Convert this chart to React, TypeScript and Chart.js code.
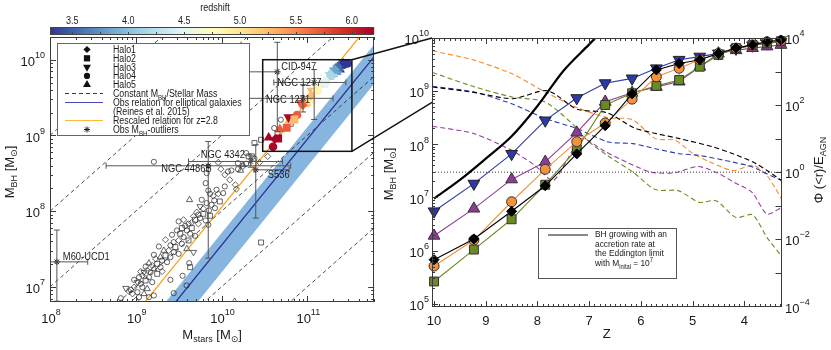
import React, { useEffect, useRef } from "react";
import { Chart, registerables } from "chart.js";

Chart.register(...registerables);

const FONT = "'Liberation Sans', Arial, 'DejaVu Sans', sans-serif";
const INK = "#1a1a1a";
const FRAME = "#3a3a3a";
const ERR_COLOR = "#555555";
const BAND_COLOR = "rgba(128,177,221,0.95)";
const REL_BLUE = "#2c2f96";
const REL_ORANGE = "#f6a623";

/* ================= LEFT PANEL DATA ================= */
const LX_LOG_RANGE = [8.0, 11.78];
const LY_LOG_RANGE = [6.8, 10.3];
const LX_MAJOR_EXP = [8, 9, 10, 11];
const LY_MAJOR_EXP = [7, 8, 9, 10];
const REDSHIFT_RANGE = [3.3, 6.2];
const REDSHIFT_TICKS = [3.5, 4.0, 4.5, 5.0, 5.5, 6.0];
const RATIO_LOG = [1, 0, -1, -2, -3, -4];
const REL_NORM = 8.95;
const REL_SLOPE = 1.4;
const REL_PIVOT = 11;
const BAND_UP = 0.16;
const BAND_LO = -0.36;
const RESCALE_OFFSET = 0.5;
const ZOOM_BOX_LOGX = [10.48, 11.52];
const ZOOM_BOX_LOGY = [8.79, 10.0];

const OBS_LOGX = [
  10.076, 10.192, 10.249, 10.315, 10.384, 10.442, 10.288, 9.961, 9.992, 10.038,
  9.827, 9.815, 10.222, 10.538, 10.161, 10.173, 9.942, 9.961, 10.019, 9.903,
  9.846, 9.865, 9.915, 9.98, 9.627, 9.827, 9.75, 9.788, 9.853, 9.884,
  9.711, 9.788, 9.75, 9.815, 9.846, 9.692, 9.653, 9.615, 9.73, 9.5,
  9.577, 9.653, 9.538, 9.596, 9.48, 9.519, 9.634, 9.692, 9.557, 9.615,
  9.5, 9.442, 9.538, 9.404, 9.461, 9.596, 9.384, 9.442, 9.327, 9.5,
  9.346, 9.404, 9.288, 9.307, 9.231, 9.365, 9.25, 9.192, 9.154, 9.288,
  9.211, 9.134, 9.173, 9.25, 9.096, 9.077, 9.154, 9.038, 9.115, 9.019,
  9.058, 9.192, 8.981, 9.077, 9.134, 9.019, 8.961, 9.096, 9.038, 9.154,
  8.999, 9.211, 9.623, 9.634, 9.546, 9.592, 9.442, 9.404, 9.673, 10.153,
  10.461, 8.826, 8.884, 8.922, 10.384, 10.461, 10.288, 10.191, 10.249, 10.115,
  10.353, 10.691, 10.807, 10.807, 10.653, 10.614, 9.73, 9.673, 9.865, 9.923,
  9.769, 9.557, 9.423, 9.346, 9.269, 9.211, 9.307, 9.115, 9.058, 8.981,
  8.942, 10.038, 10.096, 9.211,
];
const OBS_LOGY = [
  8.524, 8.555, 8.591, 8.723, 8.692, 8.643, 8.626, 8.643, 8.555, 8.48,
  8.502, 8.37, 8.538, 8.723, 8.348, 8.291, 8.282, 8.229, 8.238, 8.203,
  8.273, 8.229, 8.141, 8.128, 8.15, 8.106, 8.062, 8.031, 8.009, 8.084,
  7.987, 7.965, 7.908, 7.877, 7.82, 7.886, 7.85, 7.833, 7.833, 7.864,
  7.806, 7.776, 7.776, 7.745, 7.745, 7.701, 7.701, 7.674, 7.657, 7.613,
  7.613, 7.591, 7.569, 7.547, 7.525, 7.502, 7.48, 7.458, 7.48, 7.436,
  7.414, 7.392, 7.392, 7.348, 7.37, 7.326, 7.304, 7.282, 7.313, 7.26,
  7.238, 7.216, 7.194, 7.172, 7.194, 7.15, 7.128, 7.128, 7.084, 7.062,
  7.04, 7.062, 6.996, 6.996, 6.974, 6.93, 6.908, 6.908, 6.864, 6.864,
  6.82, 6.886, 7.313, 7.26, 7.146, 7.018, 6.917, 7.093, 7.458, 6.806,
  7.586, 6.85, 6.982, 6.938, 8.899, 8.943, 8.767, 8.634, 8.612, 8.537,
  8.723, 9.207, 9.216, 9.154, 9.031, 9.097, 7.952, 7.93, 7.939, 8.04,
  8.15, 7.886, 7.687, 7.622, 7.533, 7.423, 7.203, 7.269, 7.203, 7.093,
  6.961, 8.326, 8.414, 8.652,
];
const OBS_SHAPE = [
  "c", "c", "d", "s", "c", "d", "c", "d", "d", "d",
  "c", "c", "t", "d", "d", "d", "c", "d", "c", "d",
  "c", "c", "c", "s", "t", "c", "v", "d", "c", "c",
  "d", "s", "c", "c", "c", "s", "d", "c", "d", "c",
  "c", "s", "s", "c", "c", "s", "c", "c", "c", "s",
  "d", "c", "c", "c", "s", "t", "d", "c", "t", "c",
  "s", "c", "t", "c", "d", "c", "s", "d", "t", "c",
  "t", "d", "c", "s", "v", "d", "c", "c", "s", "v",
  "c", "c", "d", "c", "t", "c", "d", "t", "c", "c",
  "d", "c", "c", "s", "c", "c", "c", "c", "v", "t",
  "s", "c", "v", "d", "s", "s", "c", "c", "t", "c",
  "s", "c", "c", "s", "c", "c", "c", "d", "s", "c",
  "c", "d", "c", "d", "c", "c", "d", "c", "d", "c",
  "c", "c", "d", "c",
];

const OUT_NAMES = ["CID-947", "NGC 1277", "NGC 1271", "NGC 4342", "NGC 4486B", "S536", "M60-UCD1"];
const OUT_LOGX = [10.65, 11.08, 10.95, 10.341, 9.845, 10.399, 8.08];
const OUT_LOGY = [9.84, 9.7, 9.49, 8.656, 8.599, 8.546, 7.33];
const OUT_XLO = [9.79, 10.61, 9.79, 9.615, 8.654, 10.38, 7.7];
const OUT_XHI = [10.66, 11.45, 11.3, 10.711, 10.806, 10.788, 8.44];
const OUT_YLO = [9.05, 9.21, 9.31, 8.58, 7.379, 7.908, 6.81];
const OUT_YHI = [10.23, 9.87, 9.67, 8.73, 8.92, 8.877, 7.75];
const OUT_LABEL_DX = [4, -37, -37, -50, -47, 12, 6];
const OUT_LABEL_DY = [-2, 4, 5, -3.5, 6.5, 8.3, -2];

/* ================= RIGHT PANEL DATA ================= */
const RZ_RANGE = [3.28, 10.04];
const RY_LOG_RANGE = [4.94, 10.0];
const RY2_LOG_RANGE = [-4.02, 4.0];
const RZ_MAJOR = [4, 5, 6, 7, 8, 9, 10];
const RY_MAJOR_EXP = [5, 6, 7, 8, 9, 10];
const RY2_LABEL_EXP = [-4, -2, 0, 2, 4];
const RY2_DECADES = [-4, -3, -2, -1, 0, 1, 2, 3, 4];

const HALO_NAMES = ["Halo1", "Halo2", "Halo3", "Halo4", "Halo5"];
const Z_SNAP = [10.0, 9.23, 8.5, 7.85, 7.24, 6.69, 6.17, 5.7, 5.26, 4.86, 4.5, 4.16, 3.84, 3.56, 3.29];
const LOGMBH_HALO1 = [5.83, 6.22, 6.74, 7.22, 7.82, 8.35, 8.95, 9.4, 9.52, 9.59, 9.71, 9.81, 9.87, 9.93, 9.96];
const LOGMBH_HALO2 = [5.42, 6.02, 6.59, 7.24, 7.91, 8.74, 8.96, 9.1, 9.21, 9.46, 9.68, 9.81, 9.87, 9.9, 9.94];
const LOGMBH_HALO3 = [6.74, 7.26, 7.82, 8.45, 8.87, 9.15, 9.24, 9.43, 9.59, 9.65, 9.71, 9.8, 9.86, 9.9, 9.93];
const LOGMBH_HALO4 = [5.71, 6.2, 6.92, 7.53, 8.05, 8.4, 8.85, 9.27, 9.43, 9.59, 9.71, 9.81, 9.87, 9.93, 9.95];
const LOGMBH_HALO5 = [6.28, 6.79, 7.34, 7.67, 8.22, 8.8, 8.97, 9.08, 9.18, 9.46, 9.71, 9.77, 9.81, 9.84, 9.87];
const HALO_LOGMBH = [LOGMBH_HALO1, LOGMBH_HALO2, LOGMBH_HALO3, LOGMBH_HALO4, LOGMBH_HALO5];

// stellar masses of the z <= 6.2 snapshots (Z_SNAP index 6 .. 14), shown in the left panel
const LEFT_FIRST_SNAP = 6;
const LOGMSTAR_HALO1 = [10.62, 10.95, 11.04, 11.1, 11.2, 11.27, 11.33, 11.38, 11.42];
const LOGMSTAR_HALO2 = [10.66, 10.76, 10.85, 11.05, 11.2, 11.29, 11.34, 11.37, 11.41];
const LOGMSTAR_HALO3 = [10.78, 10.92, 11.05, 11.12, 11.18, 11.26, 11.31, 11.36, 11.4];
const LOGMSTAR_HALO4 = [10.6, 10.88, 11.0, 11.12, 11.22, 11.3, 11.36, 11.42, 11.47];
const LOGMSTAR_HALO5 = [10.55, 10.68, 10.78, 11.02, 11.2, 11.26, 11.3, 11.34, 11.38];
const HALO_LOGMSTAR = [LOGMSTAR_HALO1, LOGMSTAR_HALO2, LOGMSTAR_HALO3, LOGMSTAR_HALO4, LOGMSTAR_HALO5];

const EDD_Z = [10.0, 9.5, 9.0, 8.5, 8.0, 7.5, 7.0, 6.8];
const EDD_LOGM = [6.98, 7.33, 7.73, 8.15, 8.72, 9.38, 9.88, 10.08];

const PHI_Z_HALO1 = [10.03, 9.23, 8.48, 7.81, 7.24, 6.65, 6.13, 5.7, 5.25, 4.6, 4.22, 3.83, 3.56, 3.28];
const PHI_HALO1 = [2.54, 2.38, 2.19, 2.43, 1.88, 1.77, 1.32, 1.15, 1.0, 0.75, 0.55, 0.3, 0.05, -0.25];
const PHI_Z_HALO2 = [10.03, 9.21, 8.49, 7.85, 7.24, 7.04, 6.65, 6.15, 5.72, 5.28, 4.87, 4.55, 4.16, 3.84, 3.56, 3.28];
const PHI_HALO2 = [2.97, 2.54, 2.24, 2.09, 1.32, 0.95, 0.5, 0.0, -0.52, -0.55, -0.9, -0.85, -1.35, -1.27, -1.95, -2.5];
const PHI_Z_HALO3 = [10.03, 9.23, 8.5, 7.85, 7.24, 6.63, 6.15, 5.72, 5.25, 4.87, 4.22, 3.83, 3.56, 3.28];
const PHI_HALO3 = [2.56, 2.39, 2.04, 1.6, 1.3, 0.9, 0.85, 0.7, 0.55, 0.5, 0.3, 0.15, -0.05, -0.25];
const PHI_Z_HALO4 = [10.03, 9.23, 8.5, 7.85, 7.24, 6.63, 6.17, 5.72, 5.34, 4.99, 4.66, 4.22, 3.83, 3.56, 3.41, 3.28];
const PHI_HALO4 = [3.62, 3.34, 2.94, 2.39, 1.93, 1.62, 1.57, 1.0, 0.95, 0.55, 0.3, 0.05, 0.2, -0.1, -0.45, -0.8];
const PHI_Z_HALO5 = [10.03, 9.23, 8.5, 8.05, 7.7, 7.45, 7.15, 6.7, 6.25, 5.8, 5.35, 4.9, 4.55, 4.2, 3.85, 3.56, 3.28];
const PHI_HALO5 = [1.37, 1.15, 0.65, 0.2, -0.25, 0.3, 1.0, 0.62, 0.28, 0.0, -0.02, 0.17, 0.0, -0.3, -0.6, -1.25, -1.05];
const PHI_Z = [PHI_Z_HALO1, PHI_Z_HALO2, PHI_Z_HALO3, PHI_Z_HALO4, PHI_Z_HALO5];
const PHI_LOG = [PHI_HALO1, PHI_HALO2, PHI_HALO3, PHI_HALO4, PHI_HALO5];
const PHI_UNITY = 1;

/* ================= STYLES ================= */
const HALO_STYLE = [
  { color: "#000000", edge: "#000000", ps: "rectRot", rot: 0, rR: 5, rL: 4.5, legend: "rectRot", dash: "#000000" },
  { color: "#6b8a22", edge: "#333333", ps: "rect", rot: 0, rR: 6.3, rL: 5.6, legend: "rect", dash: "#6c8f24" },
  { color: "#2b3aa8", edge: "#222222", ps: "triangle", rot: 180, rR: 6.8, rL: 5.8, legend: "triangleDown", dash: "#2b3cb0" },
  { color: "#f5913a", edge: "#333333", ps: "circle", rot: 0, rR: 5, rL: 4.3, legend: "circle", dash: "#f48a2e" },
  { color: "#8e3b96", edge: "#333333", ps: "triangle", rot: 0, rR: 6.8, rL: 5.8, legend: "triangle", dash: "#9a3aa2" },
];
const HALO_ORDER = [10, 12, 14, 11, 13];
const OBS_STYLE: any = {
  c: { ps: "circle", r: 2.6, rot: 0 },
  s: { ps: "rect", r: 3.5, rot: 0 },
  d: { ps: "rectRot", r: 3.1, rot: 0 },
  t: { ps: "triangle", r: 3.6, rot: 0 },
  v: { ps: "triangle", r: 3.6, rot: 180 },
};
const RDYLBU_R = ["#313695", "#4575b4", "#74add1", "#abd9e9", "#e0f3f8", "#ffffbf", "#fee090", "#fdae61", "#f46d43", "#d73027", "#a50026"];

/* ================= HELPERS ================= */
const P10 = (v: number) => Math.pow(10, v);

function hexRgb(h: string) {
  const n = parseInt(h.slice(1), 16);
  return [(n >> 16) & 255, (n >> 8) & 255, n & 255];
}
function cmap(t: number) {
  t = Math.max(0, Math.min(1, t));
  const f = t * (RDYLBU_R.length - 1);
  const i = Math.min(Math.floor(f), RDYLBU_R.length - 2);
  const u = f - i;
  const a = hexRgb(RDYLBU_R[i]);
  const b = hexRgb(RDYLBU_R[i + 1]);
  return `rgb(${Math.round(a[0] + (b[0] - a[0]) * u)},${Math.round(a[1] + (b[1] - a[1]) * u)},${Math.round(a[2] + (b[2] - a[2]) * u)})`;
}

type Seg = [string, number, number?];
function segsWidth(ctx: CanvasRenderingContext2D, segs: Seg[], sx: number) {
  let w = 0;
  for (const g of segs) {
    ctx.font = `${g[1]}px ${FONT}`;
    w += ctx.measureText(g[0]).width * sx;
  }
  return w;
}
function drawSegs(ctx: CanvasRenderingContext2D, segs: Seg[], x: number, y: number, align = "left", sx = 1, color = INK) {
  const w = segsWidth(ctx, segs, sx);
  let cx = align === "left" ? x : align === "center" ? x - w / 2 : x - w;
  ctx.save();
  ctx.fillStyle = color;
  ctx.textBaseline = "alphabetic";
  ctx.textAlign = "left";
  for (const g of segs) {
    ctx.font = `${g[1]}px ${FONT}`;
    const gw = ctx.measureText(g[0]).width;
    ctx.save();
    ctx.translate(cx, y + (g[2] || 0));
    ctx.scale(sx, 1);
    ctx.fillText(g[0], 0, 0);
    ctx.restore();
    cx += gw * sx;
  }
  ctx.restore();
}
function drawSegsRot(ctx: CanvasRenderingContext2D, segs: Seg[], x: number, y: number, sx = 1) {
  ctx.save();
  ctx.translate(x, y);
  ctx.rotate(-Math.PI / 2);
  drawSegs(ctx, segs, 0, 0, "center", sx);
  ctx.restore();
}
const powSegs = (e: string): Seg[] => [["10", 13], [e, 9, -8]];

function shapePath(ctx: CanvasRenderingContext2D, style: string, x: number, y: number, r: number) {
  ctx.beginPath();
  if (style === "circle") ctx.arc(x, y, r, 0, Math.PI * 2);
  else if (style === "rect") {
    const s = r * Math.SQRT1_2;
    ctx.rect(x - s, y - s, 2 * s, 2 * s);
  } else if (style === "rectRot") {
    ctx.moveTo(x, y - r); ctx.lineTo(x + r, y); ctx.lineTo(x, y + r); ctx.lineTo(x - r, y); ctx.closePath();
  } else if (style === "triangle") {
    ctx.moveTo(x, y - r); ctx.lineTo(x + 0.866 * r, y + 0.5 * r); ctx.lineTo(x - 0.866 * r, y + 0.5 * r); ctx.closePath();
  } else if (style === "triangleDown") {
    ctx.moveTo(x, y + r); ctx.lineTo(x + 0.866 * r, y - 0.5 * r); ctx.lineTo(x - 0.866 * r, y - 0.5 * r); ctx.closePath();
  }
}
function starPath(ctx: CanvasRenderingContext2D, x: number, y: number, r: number) {
  ctx.beginPath();
  for (let k = 0; k < 4; k++) {
    const ang = (k * Math.PI) / 4;
    ctx.moveTo(x - Math.cos(ang) * r, y - Math.sin(ang) * r);
    ctx.lineTo(x + Math.cos(ang) * r, y + Math.sin(ang) * r);
  }
}

function logTicks(minLog: number, maxLog: number) {
  const major: number[] = [];
  const minor: number[] = [];
  for (let d = Math.floor(minLog); d <= Math.ceil(maxLog); d++) {
    for (let k = 1; k < 10; k++) {
      const lv = d + Math.log10(k);
      if (lv < minLog - 1e-9 || lv > maxLog + 1e-9) continue;
      (k === 1 ? major : minor).push(P10(lv));
    }
  }
  return { major, minor };
}

function hTicks(ctx: CanvasRenderingContext2D, scale: any, a: any, vals: number[], len: number) {
  ctx.beginPath();
  for (const v of vals) {
    const p = Math.round(scale.getPixelForValue(v)) + 0.5;
    if (p < a.left - 0.5 || p > a.right + 0.5) continue;
    ctx.moveTo(p, a.bottom); ctx.lineTo(p, a.bottom - len);
    ctx.moveTo(p, a.top); ctx.lineTo(p, a.top + len);
  }
  ctx.stroke();
}
function vTicks(ctx: CanvasRenderingContext2D, scale: any, a: any, vals: number[], len: number, left: boolean, right: boolean) {
  ctx.beginPath();
  for (const v of vals) {
    const p = Math.round(scale.getPixelForValue(v)) + 0.5;
    if (p < a.top - 0.5 || p > a.bottom + 0.5) continue;
    if (left) { ctx.moveTo(a.left, p); ctx.lineTo(a.left + len, p); }
    if (right) { ctx.moveTo(a.right, p); ctx.lineTo(a.right - len, p); }
  }
  ctx.stroke();
}
function drawFrame(ctx: CanvasRenderingContext2D, a: any) {
  ctx.strokeStyle = FRAME;
  ctx.lineWidth = 1;
  ctx.strokeRect(Math.round(a.left) + 0.5, Math.round(a.top) + 0.5, Math.round(a.right - a.left) - 1, Math.round(a.bottom - a.top) - 1);
}

/* ================= LEFT PANEL ================= */
function drawLeftLegend(ctx: CanvasRenderingContext2D, a: any) {
  const x0 = a.left + 7, y0 = a.top + 6, w = 192, h = 92;
  ctx.save();
  ctx.fillStyle = "#ffffff";
  ctx.fillRect(x0, y0, w, h);
  ctx.strokeStyle = "#666666";
  ctx.lineWidth = 1;
  ctx.strokeRect(x0 + 0.5, y0 + 0.5, w, h);
  const mx = x0 + 30, tx = x0 + 56, sx = 0.88, fs = 10;
  const rows = [6.5, 15.3, 24.1, 32.9, 41.7];
  const legR = [3.6, 4.4, 4.6, 3.1, 4.6];
  HALO_NAMES.forEach((n, i) => {
    const y = y0 + rows[i];
    ctx.fillStyle = "#111111";
    shapePath(ctx, HALO_STYLE[i].legend, mx, y, legR[i]);
    ctx.fill();
    drawSegs(ctx, [[n, fs]], tx, y + 3.5, "left", sx);
  });
  const lx0 = x0 + 8, lx1 = x0 + 46;
  let y = y0 + 50.5;
  ctx.strokeStyle = "#222222"; ctx.lineWidth = 0.9; ctx.setLineDash([4, 3]);
  ctx.beginPath(); ctx.moveTo(lx0, y); ctx.lineTo(lx1, y); ctx.stroke();
  ctx.setLineDash([]);
  drawSegs(ctx, [["Constant M", fs], ["BH", 7, 2.5], ["/Stellar Mass", fs]], tx, y + 3.5, "left", sx);
  y = y0 + 59.5;
  ctx.strokeStyle = "#4a4ac0"; ctx.lineWidth = 1.2;
  ctx.beginPath(); ctx.moveTo(lx0, y); ctx.lineTo(lx1, y); ctx.stroke();
  drawSegs(ctx, [["Obs relation for elliptical galaxies", fs]], tx, y + 3.5, "left", sx);
  y = y0 + 68.3;
  drawSegs(ctx, [["(Reines et al. 2015)", fs]], tx, y + 3.5, "left", sx);
  y = y0 + 77.5;
  ctx.strokeStyle = "#fbb93f"; ctx.lineWidth = 1.2;
  ctx.beginPath(); ctx.moveTo(lx0, y); ctx.lineTo(lx1, y); ctx.stroke();
  drawSegs(ctx, [["Rescaled relation for z=2.8", fs]], tx, y + 3.5, "left", sx);
  y = y0 + 86.5;
  ctx.strokeStyle = "#222222"; ctx.lineWidth = 1;
  starPath(ctx, mx, y, 3);
  ctx.stroke();
  drawSegs(ctx, [["Obs M", fs], ["BH", 7, 2.5], ["-outliers", fs]], tx, y + 3.5, "left", sx);
  ctx.restore();
}

const leftPlugin = {
  id: "leftDecor",
  afterDatasetsDraw(chart: any) {
    const { ctx, chartArea: a } = chart;
    const xs = chart.scales.x, ys = chart.scales.y;
    const px = (lx: number) => xs.getPixelForValue(P10(lx));
    const py = (ly: number) => ys.getPixelForValue(P10(ly));
    ctx.save();
    ctx.beginPath();
    ctx.rect(a.left, a.top, a.right - a.left, a.bottom - a.top);
    ctx.clip();
    ctx.strokeStyle = ERR_COLOR;
    ctx.lineWidth = 1;
    for (let i = 0; i < OUT_NAMES.length; i++) {
      const x = px(OUT_LOGX[i]), y = py(OUT_LOGY[i]);
      const x0 = px(OUT_XLO[i]), x1 = px(OUT_XHI[i]), y0 = py(OUT_YLO[i]), y1 = py(OUT_YHI[i]);
      ctx.beginPath();
      ctx.moveTo(x0, y); ctx.lineTo(x1, y);
      ctx.moveTo(x0, y - 3); ctx.lineTo(x0, y + 3);
      ctx.moveTo(x1, y - 3); ctx.lineTo(x1, y + 3);
      ctx.moveTo(x, y0); ctx.lineTo(x, y1);
      ctx.moveTo(x - 3, y0); ctx.lineTo(x + 3, y0);
      ctx.moveTo(x - 3, y1); ctx.lineTo(x + 3, y1);
      ctx.stroke();
    }
    ctx.strokeStyle = "#111111";
    ctx.lineWidth = 1.5;
    const bx0 = px(ZOOM_BOX_LOGX[0]), bx1 = px(ZOOM_BOX_LOGX[1]);
    const by0 = py(ZOOM_BOX_LOGY[0]), by1 = py(ZOOM_BOX_LOGY[1]);
    ctx.strokeRect(bx0, by1, bx1 - bx0, by0 - by1);
    ctx.restore();
    OUT_NAMES.forEach((n, i) => {
      drawSegs(ctx, [[n, 11]], px(OUT_LOGX[i]) + OUT_LABEL_DX[i], py(OUT_LOGY[i]) + OUT_LABEL_DY[i], "left", 0.85);
    });
    drawLeftLegend(ctx, a);
  },
  afterDraw(chart: any) {
    const { ctx, chartArea: a } = chart;
    const xs = chart.scales.x, ys = chart.scales.y, cb = chart.scales.cb;
    ctx.save();
    drawFrame(ctx, a);
    ctx.strokeStyle = FRAME;
    ctx.lineWidth = 1;
    const xt = logTicks(LX_LOG_RANGE[0], LX_LOG_RANGE[1]);
    const yt = logTicks(LY_LOG_RANGE[0], LY_LOG_RANGE[1]);
    hTicks(ctx, xs, a, xt.major, 6);
    hTicks(ctx, xs, a, xt.minor, 3);
    vTicks(ctx, ys, a, yt.major, 6, true, true);
    vTicks(ctx, ys, a, yt.minor, 3, true, true);
    for (const e of LX_MAJOR_EXP) {
      drawSegs(ctx, powSegs(String(e)), xs.getPixelForValue(P10(e)) + 1, a.bottom + 20.5, "center");
    }
    for (const e of LY_MAJOR_EXP) {
      drawSegs(ctx, powSegs(String(e)), a.left - 5, ys.getPixelForValue(P10(e)) + 6.2, "right");
    }
    drawSegs(ctx, [["M", 13], ["stars", 9, 3], [" [M", 13], ["\u2299", 9, 3], ["]", 13]], (a.left + a.right) / 2, a.bottom + 37, "center");
    drawSegsRot(ctx, [["M", 13], ["BH", 9, 3], [" [M", 13], ["\u2299", 9, 3], ["]", 13]], 14, 172);
    const cl = cb.getPixelForValue(REDSHIFT_RANGE[0]), cr = cb.getPixelForValue(REDSHIFT_RANGE[1]);
    const ct = 27, ch = 7;
    const grad = ctx.createLinearGradient(cl, 0, cr, 0);
    RDYLBU_R.forEach((c, i) => grad.addColorStop(i / (RDYLBU_R.length - 1), c));
    ctx.fillStyle = grad;
    ctx.fillRect(cl, ct, cr - cl, ch);
    ctx.strokeStyle = "#444444";
    ctx.lineWidth = 1;
    ctx.strokeRect(Math.round(cl) + 0.5, ct + 0.5, Math.round(cr - cl) - 1, ch);
    ctx.beginPath();
    for (let v = 3.5; v <= 6.01; v += 0.25) {
      const p = Math.round(cb.getPixelForValue(v)) + 0.5;
      ctx.moveTo(p, ct + ch); ctx.lineTo(p, ct + ch - 2);
    }
    ctx.stroke();
    for (const v of REDSHIFT_TICKS) {
      drawSegs(ctx, [[v.toFixed(1), 10]], cb.getPixelForValue(v), 24, "center", 0.9);
    }
    drawSegs(ctx, [["redshift", 10]], (cl + cr) / 2 + 3, 11, "center", 0.9);
    ctx.restore();
  },
};

function leftConfig(): any {
  const relY = (lx: number, off: number) => REL_NORM + REL_SLOPE * (lx - REL_PIVOT) + off;
  const relLine = (off: number) => LX_LOG_RANGE.map((lx) => ({ x: P10(lx), y: P10(relY(lx, off)) }));
  const ds: any[] = [];
  ds.push({ data: relLine(BAND_UP), borderWidth: 0, borderColor: "rgba(0,0,0,0)", pointRadius: 0, fill: false, order: 60 });
  ds.push({ data: relLine(BAND_LO), borderWidth: 0, borderColor: "rgba(0,0,0,0)", pointRadius: 0, fill: "-1", backgroundColor: BAND_COLOR, order: 59 });
  RATIO_LOG.forEach((r) =>
    ds.push({
      data: LX_LOG_RANGE.map((lx) => ({ x: P10(lx), y: P10(lx + r) })),
      borderColor: "#222222", borderWidth: 0.8, borderDash: [4, 3], pointRadius: 0, fill: false, order: 50,
    })
  );
  ds.push({ data: relLine(0), borderColor: REL_BLUE, borderWidth: 1.3, pointRadius: 0, fill: false, order: 40 });
  ds.push({ data: relLine(RESCALE_OFFSET), borderColor: REL_ORANGE, borderWidth: 1.3, pointRadius: 0, fill: false, order: 40 });
  Object.keys(OBS_STYLE).forEach((k) => {
    const st = OBS_STYLE[k];
    const pts: any[] = [];
    OBS_SHAPE.forEach((s, i) => {
      if (s === k) pts.push({ x: P10(OBS_LOGX[i]), y: P10(OBS_LOGY[i]) });
    });
    ds.push({
      data: pts, showLine: false, pointStyle: st.ps, pointRotation: st.rot, pointRadius: st.r,
      pointBorderWidth: 0.7, pointBorderColor: "#222222", pointBackgroundColor: "rgba(255,255,255,0)", order: 30,
    });
  });
  HALO_LOGMBH.forEach((arr, h) => {
    const pts: any[] = [], cols: string[] = [];
    HALO_LOGMSTAR[h].forEach((lm, j) => {
      const i = LEFT_FIRST_SNAP + j;
      pts.push({ x: P10(lm), y: P10(arr[i]) });
      cols.push(cmap((Z_SNAP[i] - REDSHIFT_RANGE[0]) / (REDSHIFT_RANGE[1] - REDSHIFT_RANGE[0])));
    });
    const st = HALO_STYLE[h];
    ds.push({
      data: pts, showLine: false, pointStyle: st.ps, pointRotation: st.rot, pointRadius: st.rL,
      pointBorderWidth: 0, pointBackgroundColor: cols, pointBorderColor: cols, order: 10,
    });
  });
  ds.push({
    data: OUT_LOGX.map((lx, i) => ({ x: P10(lx), y: P10(OUT_LOGY[i]) })),
    showLine: false, pointStyle: "star", pointRadius: 3.2, pointBorderWidth: 1, pointBorderColor: "#222222", order: 5,
  });
  return {
    type: "line",
    data: { datasets: ds },
    options: {
      animation: false, responsive: false, maintainAspectRatio: false, devicePixelRatio: 1, events: [],
      layout: { padding: { left: 50, right: 2, top: 37, bottom: 48 } },
      plugins: { legend: { display: false }, tooltip: { enabled: false } },
      scales: {
        x: { type: "logarithmic", min: P10(LX_LOG_RANGE[0]), max: P10(LX_LOG_RANGE[1]), display: false },
        y: { type: "logarithmic", min: P10(LY_LOG_RANGE[0]), max: P10(LY_LOG_RANGE[1]), display: false },
        cb: { type: "linear", axis: "x", position: "top", min: REDSHIFT_RANGE[0], max: REDSHIFT_RANGE[1], display: false },
      },
    },
    plugins: [leftPlugin],
  };
}

/* ================= RIGHT PANEL ================= */
const rightPlugin = {
  id: "rightDecor",
  afterDatasetsDraw(chart: any) {
    const { ctx, chartArea: a } = chart;
    const x0 = a.left + 106, y0 = a.top + 190, w = 138, h = 50;
    ctx.save();
    ctx.fillStyle = "#ffffff";
    ctx.fillRect(x0, y0, w, h);
    ctx.strokeStyle = "#555555";
    ctx.lineWidth = 1;
    ctx.strokeRect(x0 + 0.5, y0 + 0.5, w, h);
    ctx.strokeStyle = "#111111";
    ctx.beginPath();
    ctx.moveTo(x0 + 10, y0 + 7); ctx.lineTo(x0 + 50, y0 + 7);
    ctx.stroke();
    const tx = x0 + 57, sx = 0.88, fs = 9.5;
    drawSegs(ctx, [["BH growing with an", fs]], tx, y0 + 8.8, "left", sx);
    drawSegs(ctx, [["accretion rate at", fs]], tx, y0 + 18.6, "left", sx);
    drawSegs(ctx, [["the Eddington limit", fs]], tx, y0 + 28.4, "left", sx);
    drawSegs(ctx, [["with M", fs], ["inital", 6.5, 2.5], [" = 10", fs], ["7", 6.5, -4]], tx, y0 + 38.2, "left", sx);
    ctx.restore();
  },
  afterDraw(chart: any) {
    const { ctx, chartArea: a } = chart;
    const xs = chart.scales.x, ys = chart.scales.y, y2 = chart.scales.y2;
    ctx.save();
    drawFrame(ctx, a);
    ctx.strokeStyle = FRAME;
    ctx.lineWidth = 1;
    const minorZ: number[] = [];
    for (let k = Math.ceil(RZ_RANGE[0] * 10); k <= Math.floor(RZ_RANGE[1] * 10); k++) {
      if (k % 10 !== 0) minorZ.push(k / 10);
    }
    hTicks(ctx, xs, a, RZ_MAJOR, 6);
    hTicks(ctx, xs, a, minorZ, 3);
    const yt = logTicks(RY_LOG_RANGE[0], RY_LOG_RANGE[1]);
    vTicks(ctx, ys, a, yt.major, 6, true, false);
    vTicks(ctx, ys, a, yt.minor, 3, true, false);
    vTicks(ctx, y2, a, RY2_DECADES.map(P10), 6, false, true);
    for (const z of RZ_MAJOR) {
      drawSegs(ctx, [[String(z), 13]], xs.getPixelForValue(z), a.bottom + 18, "center");
    }
    for (const e of RY_MAJOR_EXP) {
      drawSegs(ctx, powSegs(String(e)), a.left - 3, ys.getPixelForValue(P10(e)) + 6.2, "right");
    }
    for (const e of RY2_LABEL_EXP) {
      const s = e < 0 ? "\u2212" + String(-e) : String(e);
      drawSegs(ctx, powSegs(s), a.right + 3.5, y2.getPixelForValue(P10(e)) + 6.2, "left");
    }
    drawSegs(ctx, [["Z", 13]], (a.left + a.right) / 2, a.bottom + 31, "center");
    drawSegsRot(ctx, [["M", 13], ["BH", 9, 3], [" [M", 13], ["\u2299", 9, 3], ["]", 13]], 13, 174);
    drawSegsRot(ctx, [["\u03A6 (<r)/E", 13], ["AGN", 9, 3]], a.right + 41.5, 170);
    ctx.restore();
  },
};

function rightConfig(): any {
  const ds: any[] = [];
  ds.push({
    data: [{ x: RZ_RANGE[1], y: PHI_UNITY }, { x: RZ_RANGE[0], y: PHI_UNITY }], yAxisID: "y2",
    borderColor: "#333333", borderWidth: 1, borderDash: [1, 2], pointRadius: 0, fill: false, order: 60,
  });
  PHI_LOG.forEach((arr, h) => {
    ds.push({
      data: arr.map((v, i) => ({ x: PHI_Z[h][i], y: P10(v) })), yAxisID: "y2",
      borderColor: HALO_STYLE[h].dash, borderWidth: 1.1, borderDash: [5, 3], pointRadius: 0, tension: 0.25, fill: false, order: 50,
    });
  });
  ds.push({
    data: EDD_Z.map((z, i) => ({ x: z, y: P10(EDD_LOGM[i]) })), yAxisID: "y",
    borderColor: "#000000", borderWidth: 2.2, pointRadius: 0, cubicInterpolationMode: "monotone", fill: false, order: 40,
  });
  HALO_LOGMBH.forEach((arr, h) => {
    const st = HALO_STYLE[h];
    ds.push({
      data: arr.map((v, i) => ({ x: Z_SNAP[i], y: P10(v) })), yAxisID: "y",
      borderColor: st.color, borderWidth: 1.1, pointStyle: st.ps, pointRotation: st.rot, pointRadius: st.rR,
      pointBackgroundColor: st.color, pointBorderColor: st.edge, pointBorderWidth: 1, fill: false,
      order: HALO_ORDER[h], clip: 8,
    });
  });
  return {
    type: "line",
    data: { datasets: ds },
    options: {
      animation: false, responsive: false, maintainAspectRatio: false, devicePixelRatio: 1, events: [],
      layout: { padding: { left: 52, right: 49.5, top: 38, bottom: 43 } },
      plugins: { legend: { display: false }, tooltip: { enabled: false } },
      scales: {
        x: { type: "linear", min: RZ_RANGE[0], max: RZ_RANGE[1], reverse: true, display: false },
        y: { type: "logarithmic", position: "left", min: P10(RY_LOG_RANGE[0]), max: P10(RY_LOG_RANGE[1]), display: false },
        y2: { type: "logarithmic", position: "right", min: P10(RY2_LOG_RANGE[0]), max: P10(RY2_LOG_RANGE[1]), display: false },
      },
    },
    plugins: [rightPlugin],
  };
}

const RIGHT_OFFSET = 380;

export default function App() {
  const lRef = useRef<HTMLCanvasElement>(null);
  const rRef = useRef<HTMLCanvasElement>(null);
  const oRef = useRef<HTMLCanvasElement>(null);

  useEffect(() => {
    const lc = new Chart(lRef.current as HTMLCanvasElement, leftConfig());
    const rc = new Chart(rRef.current as HTMLCanvasElement, rightConfig());
    const oc = oRef.current as HTMLCanvasElement;
    const octx = oc.getContext("2d") as CanvasRenderingContext2D;
    octx.clearRect(0, 0, oc.width, oc.height);
    const lx = (lc as any).scales.x, ly = (lc as any).scales.y, ry = (rc as any).scales.y;
    const bx = lx.getPixelForValue(P10(ZOOM_BOX_LOGX[1]));
    const ends = [ZOOM_BOX_LOGY[1], ZOOM_BOX_LOGY[0]];
    octx.strokeStyle = "#111111";
    octx.lineWidth = 1.4;
    octx.beginPath();
    for (const v of ends) {
      octx.moveTo(bx, ly.getPixelForValue(P10(v)));
      octx.lineTo(RIGHT_OFFSET + (rc as any).chartArea.left, ry.getPixelForValue(P10(v)));
    }
    octx.stroke();
    return () => {
      lc.destroy();
      rc.destroy();
    };
  }, []);

  return (
    <div style={{ position: "fixed", left: 0, top: 0, width: 831, height: 350, background: "#ffffff", overflow: "hidden" }}>
      <canvas ref={lRef} width={380} height={350} style={{ position: "absolute", left: 0, top: 0, width: 380, height: 350 }} />
      <canvas ref={rRef} width={451} height={350} style={{ position: "absolute", left: RIGHT_OFFSET, top: 0, width: 451, height: 350 }} />
      <canvas ref={oRef} width={831} height={350} style={{ position: "absolute", left: 0, top: 0, width: 831, height: 350, pointerEvents: "none" }} />
    </div>
  );
}
